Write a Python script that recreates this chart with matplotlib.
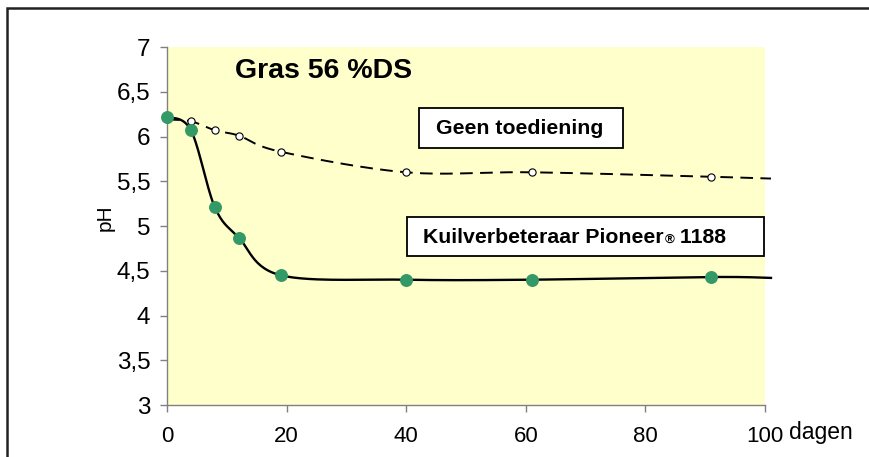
import numpy as np
import matplotlib
matplotlib.use("Agg")
import matplotlib.pyplot as plt
from matplotlib.patches import Rectangle

plt.rcParams["font.family"] = ["Liberation Sans", "DejaVu Sans"]

# data (days vs pH)
days = [0, 4, 8, 12, 19, 40, 61, 91, 101]
ph_control = [6.19, 6.17, 6.07, 6.01, 5.83, 5.60, 5.60, 5.55, 5.53]
ph_pioneer = [6.22, 6.07, 5.21, 4.87, 4.45, 4.40, 4.40, 4.43, 4.42]
n_marked = 8  # last point is only a line end, no marker

yticks = [3, 3.5, 4, 4.5, 5, 5.5, 6, 6.5, 7]
ytick_labels = ["3", "3,5", "4", "4,5", "5", "5,5", "6", "6,5", "7"]
xticks = [0, 20, 40, 60, 80, 100]

GREEN = "#339966"
GREY = "#808080"


def smooth(xs, ys, n=30):
    # excel-like smoothed line: bezier segments with catmull-rom control points
    p = np.column_stack([xs, ys]).astype(float)
    out = []
    for i in range(len(p) - 1):
        p0 = p[i - 1] if i > 0 else p[i]
        p1 = p[i]
        p2 = p[i + 1]
        p3 = p[i + 2] if i + 2 < len(p) else p[i + 1]
        c1 = p1 + (p2 - p0) / 6
        c2 = p2 - (p3 - p1) / 6
        t = np.linspace(0, 1, n)[:, None]
        seg = ((1 - t) ** 3) * p1 + 3 * ((1 - t) ** 2) * t * c1 \
            + 3 * (1 - t) * t ** 2 * c2 + t ** 3 * p2
        out.append(seg if i == 0 else seg[1:])
    out = np.vstack(out)
    return out[:, 0], out[:, 1]


W, H = 869, 457
fig = plt.figure(figsize=(W / 100, H / 100), dpi=100)

# outer chart frame (runs off the right and bottom edge)
fig.patches.append(Rectangle((7 / W, -0.1), 1.2, 1 - 8 / H + 0.1,
                             transform=fig.transFigure, fill=False,
                             edgecolor="#222222", linewidth=1.8))

ax = fig.add_axes([167 / W, 1 - 405 / H, (765 - 167) / W, (405 - 47) / H])
ax.set_facecolor("#FFFFCC")
ax.set_xlim(0, 100)
ax.set_ylim(3, 7)

xs, ys = smooth(days, ph_control)
ax.plot(xs, ys, color="black", linewidth=1.4, dashes=(6.5, 3.8),
        clip_on=False, zorder=3)
ax.plot(days[:n_marked], ph_control[:n_marked], linestyle="none",
        marker="o", markersize=5.2, markerfacecolor="white",
        markeredgecolor="black", markeredgewidth=0.8, clip_on=False,
        zorder=4)

xs, ys = smooth(days, ph_pioneer)
ax.plot(xs, ys, color="black", linewidth=1.7, clip_on=False, zorder=5)
ax.plot(days[:n_marked], ph_pioneer[:n_marked], linestyle="none",
        marker="o", markersize=8.3, markerfacecolor=GREEN,
        markeredgecolor=GREEN, clip_on=False, zorder=6)

for side in ["top", "right"]:
    ax.spines[side].set_visible(False)
for side in ["left", "bottom"]:
    ax.spines[side].set_color(GREY)
    ax.spines[side].set_linewidth(1.0)

ax.set_yticks(yticks)
ax.set_yticklabels(ytick_labels, fontsize=17.5)
ax.set_xticks(xticks)
ax.set_xticklabels([str(v) for v in xticks], fontsize=16)
ax.tick_params(axis="both", direction="out", length=5, width=1.0,
               color=GREY)
ax.tick_params(axis="y", pad=7)
ax.tick_params(axis="x", pad=10)

fig.text(105 / W, 1 - 218 / H, "pH", rotation=90, fontsize=15,
         ha="center", va="center")
fig.text(789 / W, 1 - 432 / H, "dagen", fontsize=16.5, ha="left",
         va="center")

fig.text(235 / W, 1 - 71 / H, "Gras 56 %DS", fontsize=20.5,
         fontweight="bold", ha="left", va="center")

# label boxes
fig.patches.append(Rectangle((419 / W, 1 - 148 / H), 204 / W, 40 / H,
                             transform=fig.transFigure, facecolor="white",
                             edgecolor="black", linewidth=1.3, zorder=7))
fig.text(436 / W, 1 - 129 / H, "Geen toediening", fontsize=15.3,
         fontweight="bold", ha="left", va="center", zorder=8)

fig.patches.append(Rectangle((407 / W, 1 - 256 / H), 357 / W, 39 / H,
                             transform=fig.transFigure, facecolor="white",
                             edgecolor="black", linewidth=1.3, zorder=7))
t1 = fig.text(423 / W, 1 - 237 / H, "Kuilverbeteraar Pioneer",
              fontsize=15.3, fontweight="bold", ha="left", va="center",
              zorder=8)
t2 = fig.text(0, 0, "\u00ae", fontsize=9.5, fontweight="bold", zorder=8)
t3 = fig.text(0, 0, " 1188", fontsize=15.3, fontweight="bold", zorder=8)

fig.canvas.draw()
r = fig.canvas.get_renderer()
bb1 = t1.get_window_extent(r)
t2.set_position(((bb1.x1 + 1) / W, (bb1.y0 + 1) / H))
t2.set_va("bottom")
fig.canvas.draw()
bb2 = t2.get_window_extent(r)
t3.set_position((bb2.x1 / W, bb1.y0 / H))
t3.set_va("bottom")

fig.savefig("out.png", dpi=100, facecolor="white")
